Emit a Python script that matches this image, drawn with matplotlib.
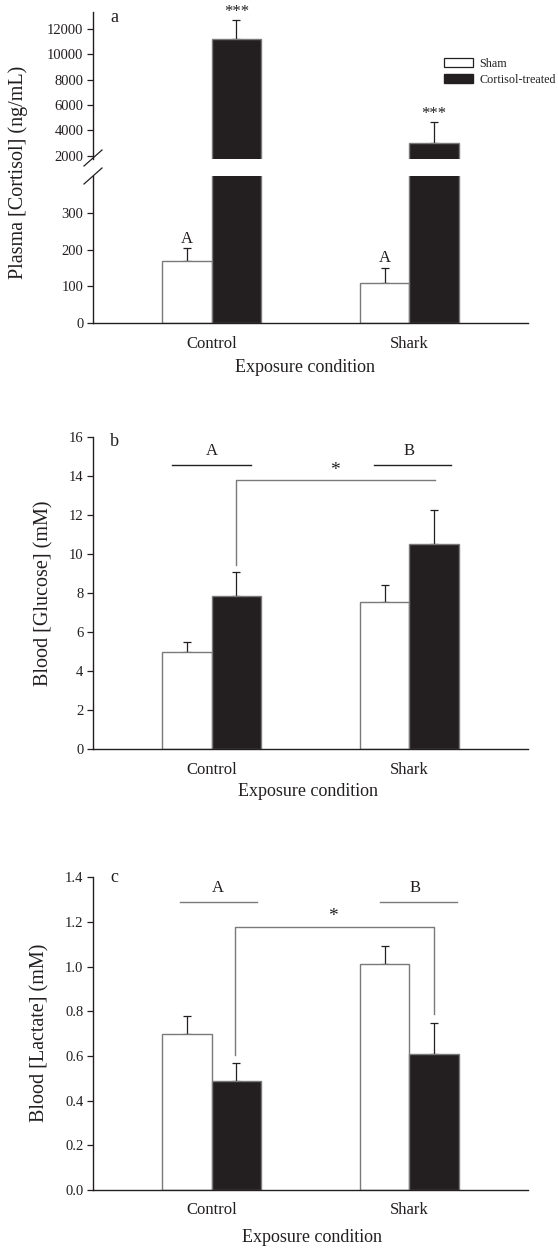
import numpy as np
import matplotlib
matplotlib.use("Agg")
import matplotlib.pyplot as plt
from matplotlib.lines import Line2D
from matplotlib.patches import Patch

# data (means, one-sided SE)
groups = ["Control", "Shark"]
series = ["Sham", "Cortisol-treated"]

cort_sham = [169, 110]
cort_sham_err = [35, 41]
cort_treat = [11200, 3000]
cort_treat_err = [1450, 1650]

gluc_sham = [5.0, 7.54]
gluc_sham_err = [0.5, 0.9]
gluc_treat = [7.86, 10.5]
gluc_treat_err = [1.23, 1.79]

lact_sham = [0.70, 1.01]
lact_sham_err = [0.08, 0.084]
lact_treat = [0.49, 0.61]
lact_treat_err = [0.077, 0.136]

ink = "#231f20"
edge = "#7a7a7a"
W, H = 558, 1248

plt.rcParams["font.family"] = ["Liberation Serif", "DejaVu Serif"]
plt.rcParams["text.color"] = ink
plt.rcParams["axes.edgecolor"] = ink
plt.rcParams["xtick.color"] = ink
plt.rcParams["ytick.color"] = ink

fig = plt.figure(figsize=(W / 100, H / 100), dpi=100)


def box(x0, x1, ytop, ybot):
    # pixel box -> figure fraction
    return [x0 / W, 1 - ybot / H, (x1 - x0) / W, (ybot - ytop) / H]


def fx(x):
    return x / W


def fy(y):
    return 1 - y / H


x = np.arange(len(groups))
bw = 0.25


def draw_bars(ax, sham, sham_err, treat, treat_err):
    ax.bar(x - bw / 2, sham, bw, color="white", edgecolor=edge, linewidth=1.0, zorder=2)
    ax.bar(x + bw / 2, treat, bw, color=ink, edgecolor=edge, linewidth=1.0, zorder=2)
    ax.errorbar(x - bw / 2, sham, yerr=[np.zeros(2), sham_err], fmt="none",
                ecolor=ink, elinewidth=0.9, capsize=3, capthick=0.9, zorder=1)
    ax.errorbar(x + bw / 2, treat, yerr=[np.zeros(2), treat_err], fmt="none",
                ecolor=ink, elinewidth=0.9, capsize=3, capthick=0.9, zorder=1)


def style(ax, bottom=True):
    for s in ["top", "right"]:
        ax.spines[s].set_visible(False)
    ax.spines["left"].set_linewidth(1.0)
    ax.spines["bottom"].set_linewidth(1.0)
    if not bottom:
        ax.spines["bottom"].set_visible(False)
    ax.set_xlim(-0.6, 1.6)
    ax.tick_params(axis="y", direction="out", length=4, width=0.9, labelsize=10.5, pad=3)
    ax.tick_params(axis="x", length=0, labelsize=12, pad=9)


# ---- panel a: broken axis ----
ax_top = fig.add_axes(box(93, 528, 12, 158.5))
ax_bot = fig.add_axes(box(93, 528, 176, 323.3))
for ax in (ax_top, ax_bot):
    draw_bars(ax, cort_sham, cort_sham_err, cort_treat, cort_treat_err)
style(ax_top, bottom=False)
style(ax_bot)
ax_top.set_ylim(1800, 13300)
ax_top.set_yticks(range(2000, 12001, 2000))
ax_top.set_xticks([])
ax_bot.set_ylim(0, 400)
ax_bot.set_yticks([0, 100, 200, 300])
ax_bot.set_xticks(x)
ax_bot.set_xticklabels(groups)

for xi, (v, e) in enumerate(zip(cort_treat, cort_treat_err)):
    ax_top.text(xi + bw / 2, v + e + 30, "***", ha="center", va="bottom", fontsize=12,
                clip_on=False)
for xi, (v, e) in enumerate(zip(cort_sham, cort_sham_err)):
    ax_bot.text(xi - bw / 2, v + e + 4, "A", ha="center", va="bottom", fontsize=12)
ax_top.text(0.04, 0.96, "a", transform=ax_top.transAxes, ha="left", va="center", fontsize=13)

# break marks on the y axis
for (x0, y0, x1, y1) in [(84, 166, 102, 150), (84, 184, 102, 168)]:
    fig.add_artist(Line2D([fx(x0), fx(x1)], [fy(y0), fy(y1)], color=ink, lw=0.9))

ax_top.legend(handles=[Patch(facecolor="white", edgecolor=ink, linewidth=0.9),
                       Patch(facecolor=ink, edgecolor=ink)],
              labels=series, loc="upper left", bbox_to_anchor=(fx(444), fy(58)),
              bbox_transform=fig.transFigure, frameon=False, fontsize=8.7,
              handlelength=2.4, handleheight=0.8, handletextpad=0.55,
              labelspacing=0.3, borderaxespad=0, borderpad=0)

fig.text(fx(18), fy(172), "Plasma [Cortisol] (ng/mL)", rotation=90,
         ha="center", va="center", fontsize=14.5)
fig.text(fx(305), fy(367), "Exposure condition", ha="center", va="center", fontsize=13)

# ---- panel b: glucose ----
ax_b = fig.add_axes(box(93, 528, 437.3, 749))
draw_bars(ax_b, gluc_sham, gluc_sham_err, gluc_treat, gluc_treat_err)
style(ax_b)
ax_b.set_ylim(0, 16)
ax_b.set_yticks(range(0, 17, 2))
ax_b.set_xticks(x)
ax_b.set_xticklabels(groups)
ax_b.text(0.04, 0.985, "b", transform=ax_b.transAxes, ha="left", va="center", fontsize=13)
ax_b.plot([-0.2, 0.2], [14.6, 14.6], color=ink, lw=1.0)
ax_b.plot([0.82, 1.21], [14.6, 14.6], color=ink, lw=1.0)
ax_b.text(0.0, 14.9, "A", ha="center", va="bottom", fontsize=12)
ax_b.text(1.0, 14.9, "B", ha="center", va="bottom", fontsize=12)
ax_b.plot([0.125, 0.125, 1.13], [9.43, 13.82, 13.82], color=edge, lw=1.0)
ax_b.text(0.625, 13.85, "*", ha="center", va="bottom", fontsize=14)
fig.text(fx(44), fy(593), "Blood [Glucose] (mM)", rotation=90,
         ha="center", va="center", fontsize=14.5)
fig.text(fx(308), fy(792), "Exposure condition", ha="center", va="center", fontsize=13)

# ---- panel c: lactate ----
ax_c = fig.add_axes(box(93, 528, 877.3, 1190))
draw_bars(ax_c, lact_sham, lact_sham_err, lact_treat, lact_treat_err)
style(ax_c)
ax_c.set_ylim(0, 1.4)
ax_c.set_yticks(np.arange(0, 1.41, 0.2))
ax_c.set_yticklabels([f"{t:.1f}" for t in np.arange(0, 1.41, 0.2)])
ax_c.set_xticks(x)
ax_c.set_xticklabels(groups)
ax_c.text(0.04, 1.0, "c", transform=ax_c.transAxes, ha="left", va="center", fontsize=13)
ax_c.plot([-0.16, 0.23], [1.29, 1.29], color=edge, lw=1.0)
ax_c.plot([0.85, 1.24], [1.29, 1.29], color=edge, lw=1.0)
ax_c.text(0.03, 1.315, "A", ha="center", va="bottom", fontsize=12)
ax_c.text(1.03, 1.315, "B", ha="center", va="bottom", fontsize=12)
ax_c.plot([0.12, 0.12, 1.127, 1.127], [0.605, 1.179, 1.179, 0.79], color=edge, lw=1.0)
ax_c.text(0.614, 1.185, "*", ha="center", va="bottom", fontsize=14)
fig.text(fx(40), fy(1033), "Blood [Lactate] (mM)", rotation=90,
         ha="center", va="center", fontsize=14.5)
fig.text(fx(312), fy(1237), "Exposure condition", ha="center", va="center", fontsize=13)

fig.savefig("out.png", dpi=100)
